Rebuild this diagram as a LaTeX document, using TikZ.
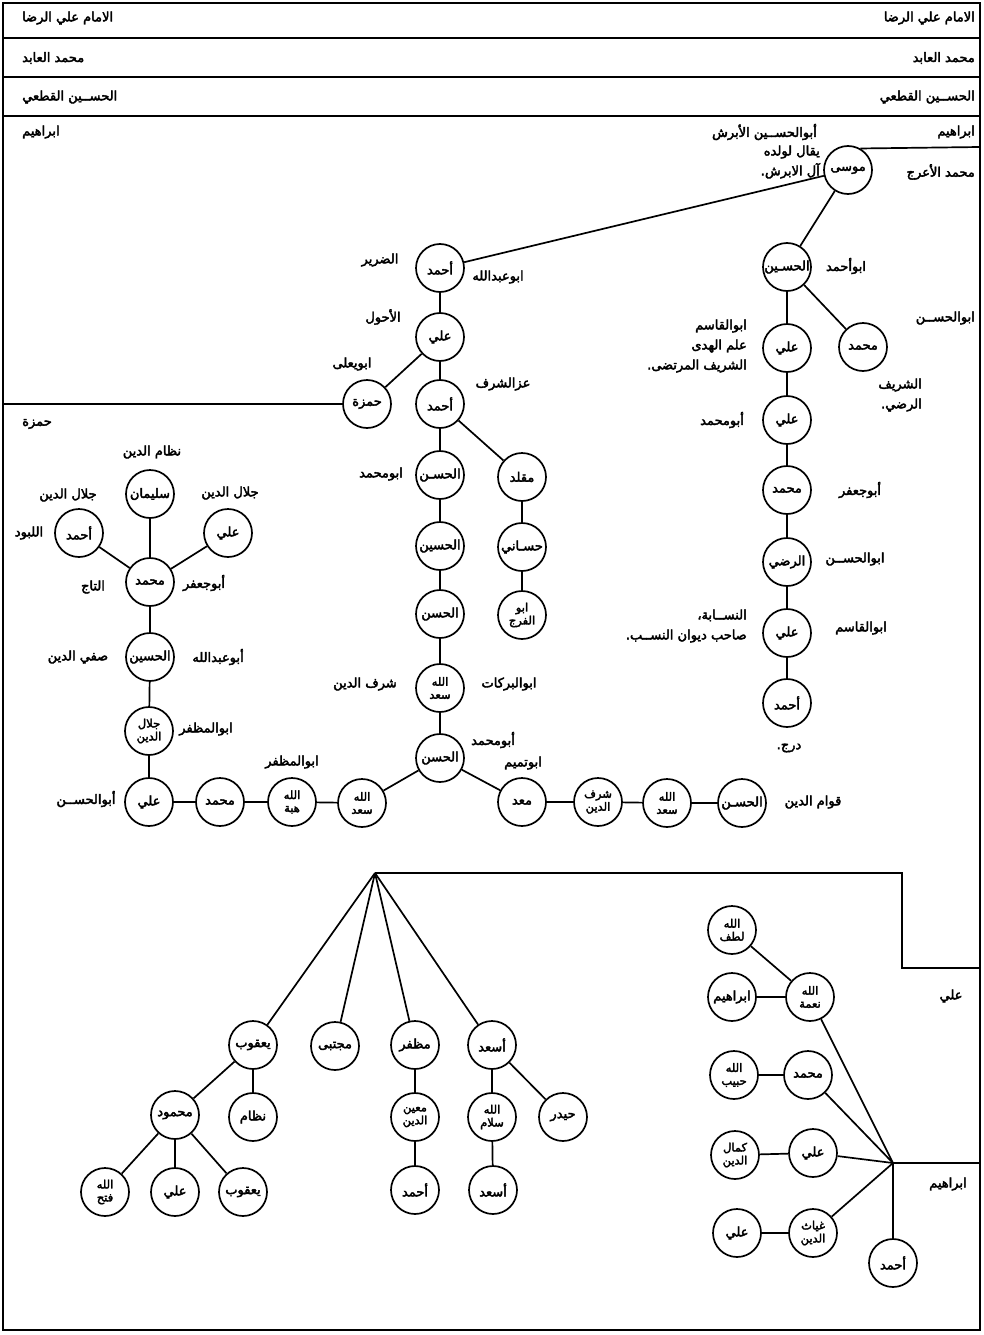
\documentclass[tikz,border=0pt]{standalone}
\usepackage{fontspec}
\newfontfamily\arabicfont[Script=Arabic,FakeBold=3]{DejaVu Sans}
\TeXXeTstate=1
\newcommand{\arb}[1]{\beginR #1\endR}
\begin{document}
\begin{tikzpicture}[x=1pt,y=-1pt,
  person/.style={circle, draw, line width=1.7pt, minimum size=48pt, inner sep=0pt, align=center,
     font=\arabicfont\fontsize{13}{14}\selectfont},
  two/.style={font=\arabicfont\fontsize{11.5}{13}\selectfont},
  lbl/.style={inner sep=0pt, align=right, font=\arabicfont\fontsize{13}{20}\selectfont},
  edge/.style={line width=1.7pt},
  frame/.style={line width=1.7pt}]
\useasboundingbox (0,0) rectangle (983,1335);
% frame and header rows
\draw[frame] (3,3) rectangle (980,1330);
\draw[frame] (3,38) -- (980,38);
\draw[frame] (3,77) -- (980,77);
\draw[frame] (3,116) -- (980,116);
\node[lbl, anchor=east] (h1r) at (975,18) {\arb{الامام علي الرضا}};
\node[lbl, anchor=west] (h1l) at (22,18) {\arb{الامام علي الرضا}};
\node[lbl, anchor=east] (h2r) at (975,58) {\arb{محمد العابد}};
\node[lbl, anchor=west] (h2l) at (22,58) {\arb{محمد العابد}};
\node[lbl, anchor=east] (h3r) at (975,97) {\arb{الحســين القطعي}};
\node[lbl, anchor=west] (h3l) at (22,97) {\arb{الحســين القطعي}};
\node[lbl, anchor=west] (ibrl) at (22,132) {\arb{ابراهيم}};
\node[lbl, anchor=east] (ibrr) at (975,132) {\arb{ابراهيم}};
\node[lbl, anchor=east] (abras) at (817,132) {\arb{أبوالحســين الأبرش}};
\node[lbl, anchor=east] (yuqal) at (820,162) {\arb{يقال لولده}\\\arb{آل الابرش.}};
\node[lbl, anchor=east] (araj) at (975,172) {\arb{محمد الأعرج}};

% coordinates for free ends
\coordinate (rb1) at (980,147);
\coordinate (lb1) at (3,404);
\coordinate (apex) at (375,873);
\coordinate (j1) at (902,873);
\coordinate (j2) at (902,968);
\coordinate (rb2) at (980,968);
\coordinate (jr) at (893,1163);
\coordinate (rb3) at (980,1163);

% upper persons
\node[person] (mousa) at (848,170) {\arb{موسى}};
\node[person] (ahA) at (440,268) {\arb{أحمد}};
\node[person] (huA) at (787,267) {\arb{الحسـين}};
\node[person] (aliM) at (787,348) {\arb{علي}};
\node[person] (muhR) at (863,347) {\arb{محمد}};
\node[person] (ali2) at (787,420) {\arb{علي}};
\node[person] (muh2) at (787,490) {\arb{محمد}};
\node[person] (rad) at (787,562) {\arb{الرضي}};
\node[person] (ali3) at (787,633) {\arb{علي}};
\node[person] (ahm3) at (787,703) {\arb{أحمد}};

\node[person] (aliB) at (440,337) {\arb{علي}};
\node[person] (hamza) at (367,404) {\arb{حمزة}};
\node[person] (ahB) at (440,404) {\arb{أحمد}};
\node[person] (hasC1) at (440,475) {\arb{الحسـن}};
\node[person] (muq) at (522,477) {\arb{مقلد}};
\node[person] (husC) at (440,546) {\arb{الحسين}};
\node[person] (hasani) at (522,547) {\arb{حسـاني}};
\node[person] (hasC2) at (440,614) {\arb{الحسن}};
\node[person, two] (abufaraj) at (522,615) {\arb{ابو}\\\arb{الفرج}};
\node[person, two] (saadC) at (440,688) {\arb{الله}\\\arb{سعد}};
\node[person] (hasC3) at (440,758) {\arb{الحسن}};
\node[person, two] (saadL) at (362,803) {\arb{الله}\\\arb{سعد}};
\node[person, two] (hiba) at (292,802) {\arb{الله}\\\arb{هبة}};
\node[person] (muhL) at (220,802) {\arb{محمد}};
\node[person] (aliL) at (149,802) {\arb{علي}};
\node[person, two] (jalal) at (149,731) {\arb{جلال}\\\arb{الدين}};
\node[person] (husL) at (150,657) {\arb{الحسين}};
\node[person] (muhS) at (150,582) {\arb{محمد}};
\node[person] (ahS) at (79,533) {\arb{أحمد}};
\node[person] (sul) at (150,494) {\arb{سليمان}};
\node[person] (aliS) at (228,533) {\arb{علي}};
\node[person] (maad) at (522,802) {\arb{معد}};
\node[person, two] (sharaf) at (598,802) {\arb{شرف}\\\arb{الدين}};
\node[person, two] (saadR) at (667,803) {\arb{الله}\\\arb{سعد}};
\node[person] (hasR) at (742,803) {\arb{الحسـن}};

% lower persons
\node[person] (yaq) at (253,1045) {\arb{يعقوب}};
\node[person] (muj) at (335,1046) {\arb{مجتبى}};
\node[person] (muz) at (415,1045) {\arb{مظفر}};
\node[person] (asad) at (492,1045) {\arb{أسعد}};
\node[person] (mahmud) at (175,1115) {\arb{محمود}};
\node[person] (nizam) at (253,1117) {\arb{نظام}};
\node[person, two] (fath) at (105,1192) {\arb{الله}\\\arb{فتح}};
\node[person] (aliY) at (175,1192) {\arb{علي}};
\node[person] (yaq2) at (243,1192) {\arb{يعقوب}};
\node[person, two] (muin) at (415,1117) {\arb{معين}\\\arb{الدين}};
\node[person] (ahmZ) at (415,1190) {\arb{أحمد}};
\node[person, two] (salam) at (492,1117) {\arb{الله}\\\arb{سلام}};
\node[person] (asad2) at (493,1190) {\arb{أسعد}};
\node[person] (haydar) at (563,1117) {\arb{حيدر}};

\node[person, two] (lutf) at (732,930) {\arb{الله}\\\arb{لطف}};
\node[person, two] (nima) at (810,997) {\arb{الله}\\\arb{نعمة}};
\node[person] (ibr) at (732,997) {\arb{ابراهيم}};
\node[person] (muhJ) at (808,1075) {\arb{محمد}};
\node[person, two] (habib) at (734,1075) {\arb{الله}\\\arb{حبيب}};
\node[person] (aliJ) at (813,1153) {\arb{علي}};
\node[person, two] (kamal) at (735,1155) {\arb{كمال}\\\arb{الدين}};
\node[person, two] (ghiyath) at (813,1233) {\arb{غياث}\\\arb{الدين}};
\node[person] (aliK) at (737,1233) {\arb{علي}};
\node[person] (ahmJ) at (893,1263) {\arb{أحمد}};

% labels
\node[lbl] (l1) at (380,260) {\arb{الضرير}};
\node[lbl] (l2) at (498,277) {\arb{ابوعبدالله}};
\node[lbl] (l3) at (383,317) {\arb{الأحول}};
\node[lbl] (l4) at (352,364) {\arb{ابويعلى}};
\node[lbl] (l5) at (503,384) {\arb{عزالشرف}};
\node[lbl] (l6) at (846,266) {\arb{ابوأحمد}};
\node[lbl, anchor=east] (l7) at (975,318) {\arb{ابوالحســن}};
\node[lbl, anchor=east] (l8) at (747,346) {\arb{ابوالقاسم}\\\arb{علم الهدى}\\\arb{الشريف المرتضى.}};
\node[lbl, anchor=east] (l9) at (922,395) {\arb{الشريف}\\\arb{الرضي.}};
\node[lbl] (l10) at (722,420) {\arb{أبومحمد}};
\node[lbl] (l11) at (860,490) {\arb{أبوجعفر}};
\node[lbl] (l12) at (855,559) {\arb{ابوالحســن}};
\node[lbl] (l13) at (861,628) {\arb{ابوالقاسم}};
\node[lbl, anchor=east] (l14) at (747,626) {\arb{النســابة،}\\\arb{صاحب ديوان النســب.}};
\node[lbl] (l15) at (789,748) {\arb{درج.}};
\node[lbl] (l16) at (381,474) {\arb{ابومحمد}};
\node[lbl] (l17) at (365,684) {\arb{شرف الدين}};
\node[lbl] (l18) at (509,684) {\arb{ابوالبركات}};
\node[lbl] (l19) at (493,740) {\arb{أبومحمد}};
\node[lbl] (l20) at (523,763) {\arb{ابوتميم}};
\node[lbl] (l21) at (292,762) {\arb{ابوالمظفر}};
\node[lbl] (l22) at (813,802) {\arb{قوام الدين}};
\node[lbl] (l23) at (86,799) {\arb{أبوالحســن}};
\node[lbl] (l24) at (37,424) {\arb{حمزة}};
\node[lbl] (l25) at (152,452) {\arb{نظام الدين}};
\node[lbl] (l26) at (68,495) {\arb{جلال الدين}};
\node[lbl] (l27) at (230,493) {\arb{جلال الدين}};
\node[lbl] (l28) at (29,533) {\arb{اللبود}};
\node[lbl] (l29) at (93,587) {\arb{التاج}};
\node[lbl] (l30) at (204,583) {\arb{أبوجعفر}};
\node[lbl] (l31) at (78,657) {\arb{صفي الدين}};
\node[lbl] (l32) at (218,657) {\arb{أبوعبدالله}};
\node[lbl] (l33) at (206,729) {\arb{ابوالمظفر}};
\node[lbl] (l34) at (951,996) {\arb{علي}};
\node[lbl] (l35) at (948,1184) {\arb{ابراهيم}};

% connectors upper
\draw[edge] (mousa.60) -- (rb1);
\draw[edge] (mousa) -- (ahA);
\draw[edge] (mousa) -- (huA);
\draw[edge] (huA) -- (aliM);
\draw[edge] (huA) -- (muhR);
\draw[edge] (aliM) -- (ali2);
\draw[edge] (ali2) -- (muh2);
\draw[edge] (muh2) -- (rad);
\draw[edge] (rad) -- (ali3);
\draw[edge] (ali3) -- (ahm3);
\draw[edge] (ahA) -- (aliB);
\draw[edge] (aliB) -- (hamza);
\draw[edge] (aliB) -- (ahB);
\draw[edge] (hamza) -- (lb1);
\draw[edge] (ahB) -- (hasC1);
\draw[edge] (ahB) -- (muq);
\draw[edge] (muq) -- (hasani);
\draw[edge] (hasani) -- (abufaraj);
\draw[edge] (hasC1) -- (husC);
\draw[edge] (husC) -- (hasC2);
\draw[edge] (hasC2) -- (saadC);
\draw[edge] (saadC) -- (hasC3);
\draw[edge] (hasC3) -- (saadL);
\draw[edge] (hasC3) -- (maad);
\draw[edge] (saadL) -- (hiba);
\draw[edge] (hiba) -- (muhL);
\draw[edge] (muhL) -- (aliL);
\draw[edge] (maad) -- (sharaf);
\draw[edge] (sharaf) -- (saadR);
\draw[edge] (saadR) -- (hasR);
\draw[edge] (aliL) -- (jalal);
\draw[edge] (jalal) -- (husL);
\draw[edge] (husL) -- (muhS);
\draw[edge] (muhS) -- (ahS);
\draw[edge] (muhS) -- (sul);
\draw[edge] (muhS) -- (aliS);

% connectors lower
\draw[edge] (rb2) -- (j2) -- (j1) -- (apex);
\draw[edge] (apex) -- (yaq);
\draw[edge] (apex) -- (muj);
\draw[edge] (apex) -- (muz);
\draw[edge] (apex) -- (asad);
\draw[edge] (yaq) -- (mahmud);
\draw[edge] (yaq) -- (nizam);
\draw[edge] (mahmud) -- (fath);
\draw[edge] (mahmud) -- (aliY);
\draw[edge] (mahmud) -- (yaq2);
\draw[edge] (muz) -- (muin);
\draw[edge] (muin) -- (ahmZ);
\draw[edge] (asad) -- (salam);
\draw[edge] (salam) -- (asad2);
\draw[edge] (asad) -- (haydar);
\draw[edge] (jr) -- (rb3);
\draw[edge] (jr) -- (nima);
\draw[edge] (jr) -- (muhJ);
\draw[edge] (jr) -- (aliJ);
\draw[edge] (jr) -- (ghiyath);
\draw[edge] (jr) -- (ahmJ);
\draw[edge] (nima) -- (lutf);
\draw[edge] (nima) -- (ibr);
\draw[edge] (muhJ) -- (habib);
\draw[edge] (aliJ) -- (kamal);
\draw[edge] (ghiyath) -- (aliK);
\end{tikzpicture}
\end{document}
